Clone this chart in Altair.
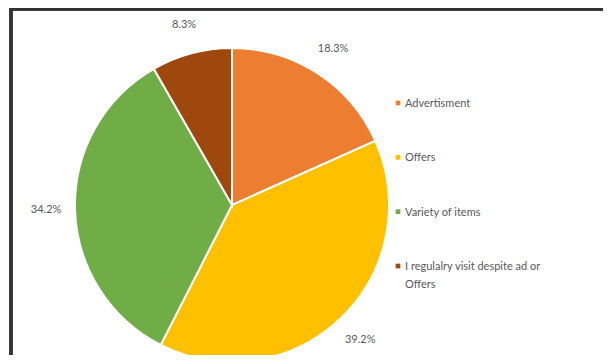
import altair as alt
import pandas as pd

categories = ["Advertisment", "Offers", "Variety of items", "I regulalry visit despite ad or Offers"]
legend_labels = ["Advertisment", "Offers", "Variety of items", "I regulalry visit despite ad or\nOffers"]
values = [18.3, 39.2, 34.2, 8.3]
labels = ["18.3%", "39.2%", "34.2%", "8.3%"]
colors = ["#ED7D31", "#FFC000", "#70AD47", "#9E480E"]

df = pd.DataFrame({
    "category": categories,
    "legend": legend_labels,
    "value": values,
    "label": labels,
    "idx": list(range(len(categories))),
})

W, H = 595, 347
CX, CY, R = 224, 197, 157
FONT = "Lato"
TXT = "#595959"

color = alt.Color("category:N", scale=alt.Scale(domain=categories, range=colors), legend=None)

pie = alt.Chart(df).mark_arc(radius=R, stroke="white", strokeWidth=2).encode(
    theta=alt.Theta("value:Q", stack=True),
    order=alt.Order("idx:Q"),
    color=color,
    x=alt.value(CX),
    y=alt.value(CY),
)

pct = alt.Chart(df).mark_text(radius=186, font=FONT, fontSize=11, color=TXT).encode(
    theta=alt.Theta("value:Q", stack=True),
    order=alt.Order("idx:Q"),
    text="label:N",
    x=alt.value(CX),
    y=alt.value(CY),
)

ypos = alt.Y("category:N", scale=alt.Scale(type="point", domain=categories, range=[95, 258], padding=0), axis=None)

leg_sym = alt.Chart(df).mark_square(size=22, opacity=1).encode(
    x=alt.value(390),
    y=ypos,
    color=color,
)

leg_txt = alt.Chart(df).mark_text(
    align="left", baseline="alphabetic", dy=4, font=FONT, fontSize=11, color=TXT,
    lineBreak="\n", lineHeight=18,
).encode(
    x=alt.value(397),
    y=ypos,
    text="legend:N",
)

frame_left = alt.Chart(df).mark_rule(color="#333333", strokeWidth=3).encode(
    x=alt.value(3), y=alt.value(0), y2=alt.value(H)
)
frame_top = alt.Chart(df).mark_rule(color="#333333", strokeWidth=3).encode(
    x=alt.value(2), x2=alt.value(W), y=alt.value(1)
)

chart = alt.layer(pie, pct, leg_sym, leg_txt, frame_left, frame_top).properties(
    width=W, height=H, padding=0, autosize=alt.AutoSizeParams(type="none"), background="white"
).configure_view(stroke=None)

chart.save("out.html", embed_options={"renderer": "svg", "actions": False})
